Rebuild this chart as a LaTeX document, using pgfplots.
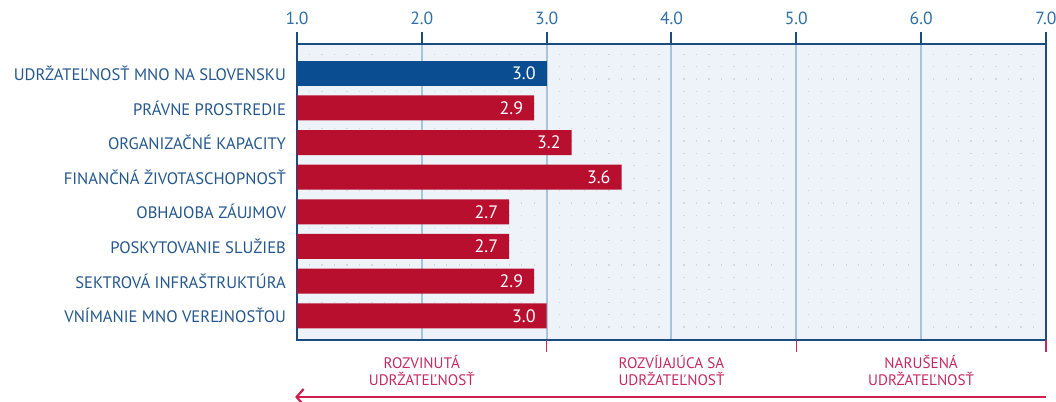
\documentclass[border=0pt]{standalone}
\usepackage{pgfplots}
\pgfplotsset{compat=1.18}
\usepackage{fontspec}
\setmainfont{PT Sans}
\usetikzlibrary{arrows.meta}
\definecolor{barblue}{HTML}{0B4D91}
\definecolor{barred}{HTML}{B80F2F}
\definecolor{labblue}{HTML}{24578C}
\definecolor{tickblue}{HTML}{2E6FA5}
\definecolor{framblue}{HTML}{1B4C80}
\definecolor{bgblue}{HTML}{EEF3FA}
\definecolor{gridblue}{HTML}{A8C3DC}
\definecolor{zonered}{HTML}{C42A5E}
\definecolor{arrowred}{HTML}{CF2150}
\begin{document}
\begin{tikzpicture}
\useasboundingbox (0,0) rectangle (528pt,201pt);
\begin{axis}[
  at={(148.5pt,31pt)}, anchor=south west,
  scale only axis, width=374.5pt, height=148pt,
  xmin=1, xmax=7, ymin=-0.70, ymax=7.847,
  clip=false,
  axis background/.style={fill=bgblue},
  axis line style={framblue, line width=1pt},
  xtick={1,2,3,4,5,6,7},
  xticklabels={1.0,2.0,3.0,4.0,5.0,6.0,7.0},
  xtick pos=right, xticklabel pos=right,
  tick align=outside,
  major tick length=6pt,
  minor tick length=0pt,
  xtick style={framblue, line width=1pt},
  xticklabel style={tickblue, font=\fontsize{8.8}{10}\selectfont},
  minor x tick num=9,
  xmajorgrids, xminorgrids,
  major grid style={gridblue, line width=1pt},
  minor grid style={draw=black!16, line width=0.6pt, dash pattern=on 0.6pt off 5.6pt},
  ytick={0,1,2,3,4,5,6,7},
  yticklabels={VNÍMANIE MNO VEREJNOSŤOU, SEKTROVÁ INFRAŠTRUKTÚRA, POSKYTOVANIE SLUŽIEB, OBHAJOBA ZÁUJMOV, FINANČNÁ ŽIVOTASCHOPNOSŤ, ORGANIZAČNÉ KAPACITY, PRÁVNE PROSTREDIE, UDRŽATEĽNOSŤ MNO NA SLOVENSKU},
  ytick style={draw=none},
  yticklabel style={labblue, font=\fontsize{8.3}{10}\selectfont, xshift=4pt},
  xbar, bar width=12.5pt, bar shift=0pt,
  point meta=x,
  nodes near coords,
  nodes near coords style={/pgf/number format/fixed, /pgf/number format/fixed zerofill, /pgf/number format/precision=1, /pgf/number format/assume math mode=true, anchor=east, white, xshift=-2pt, font=\fontsize{9}{10}\selectfont},
]
\addplot[fill=barblue, draw=none] coordinates {(3.0,7)};
\addplot[fill=barred, draw=none] coordinates {(2.9,6) (3.2,5) (3.6,4) (2.7,3) (2.7,2) (2.9,1) (3.0,0)};
\draw[zonered, line width=0.8pt] (axis cs:3,-0.70) -- ([yshift=-6pt]axis cs:3,-0.70);
\draw[zonered, line width=0.8pt] (axis cs:5,-0.70) -- ([yshift=-6pt]axis cs:5,-0.70);
\draw[zonered, line width=0.8pt] (axis cs:7,-0.70) -- ([yshift=-6pt]axis cs:7,-0.70);
\node[zonered, align=center, anchor=north, font=\fontsize{7.6}{8.6}\selectfont, inner sep=0pt] at ([yshift=-7.5pt]axis cs:2,-0.70) {ROZVINUTÁ\\UDRŽATEĽNOSŤ};
\node[zonered, align=center, anchor=north, font=\fontsize{7.6}{8.6}\selectfont, inner sep=0pt] at ([yshift=-7.5pt]axis cs:4,-0.70) {ROZVÍJAJÚCA SA\\UDRŽATEĽNOSŤ};
\node[zonered, align=center, anchor=north, font=\fontsize{7.6}{8.6}\selectfont, inner sep=0pt] at ([yshift=-7.5pt]axis cs:6,-0.70) {NARUŠENÁ\\UDRŽATEĽNOSŤ};
\draw[arrowred, line width=1.1pt, -{Straight Barb[length=3.5pt,width=8pt]}] ([yshift=-28.5pt]axis cs:7,-0.70) -- ([yshift=-28.5pt]axis cs:0.985,-0.70);
\end{axis}
\end{tikzpicture}
\end{document}
